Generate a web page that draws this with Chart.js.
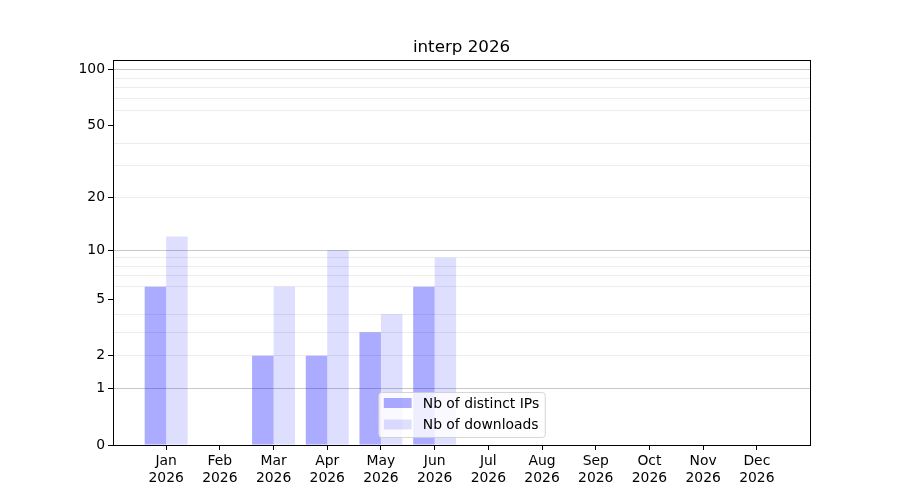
<!DOCTYPE html>
<html>
<head>
<meta charset="utf-8">
<script src="https://cdn.jsdelivr.net/npm/chart.js@4/dist/chart.umd.min.js"></script>
<style>
  html, body { margin: 0; padding: 0; background: #fff; }
  #wrap { width: 900px; height: 500px; }
</style>
</head>
<body>
<div id="wrap"><canvas id="chart" width="900" height="500"></canvas></div>
<script>
const months = ['Jan', 'Feb', 'Mar', 'Apr', 'May', 'Jun', 'Jul', 'Aug', 'Sep', 'Oct', 'Nov', 'Dec'];
const yearLabel = '2026';
const chartTitle = 'interp 2026';
const distinctIPs = [6, 0, 2, 2, 3, 6, 0, 0, 0, 0, 0, 0];
const downloads = [12, 0, 6, 10, 4, 9, 0, 0, 0, 0, 0, 0];
const yLabelTicks = [0, 1, 2, 5, 10, 20, 50, 100];
const yMajorGrid = [1, 10, 100];
const yMinorGrid = [2, 3, 4, 6, 7, 8, 9, 20, 30, 40, 60, 70, 80, 90];
const yMax = 113;

const FONT = "'DejaVu Sans', sans-serif";
const fwd = v => Math.log10(1 + v);

// y axis that spaces values as log10(1 + v)
class InterpScale extends Chart.Scale {
    static id = 'interp';
    static defaults = {};
    determineDataLimits() {
        this.min = 0;
        this.max = yMax;
    }
    buildTicks() {
        const vals = [...new Set([...yLabelTicks, ...yMajorGrid, ...yMinorGrid])].sort((a, b) => a - b);
        return vals.map(v => ({ value: v }));
    }
    configure() {
        super.configure();
        this._tmin = fwd(this.min);
        this._trange = fwd(this.max) - this._tmin;
    }
    getPixelForValue(v) {
        return this.getPixelForDecimal((fwd(v) - this._tmin) / this._trange);
    }
    getValueForPixel(p) {
        return Math.pow(10, this._tmin + this.getDecimalForPixel(p) * this._trange) - 1;
    }
    getLabelForValue(v) {
        return String(v);
    }
}
Chart.register(InterpScale);

// frame, title over the plot centre, legend inside the plot
const frameAndLegend = {
    id: 'frameAndLegend',
    afterDraw(chart) {
        const { ctx, chartArea: a } = chart;
        ctx.save();
        ctx.strokeStyle = '#000';
        ctx.lineWidth = 1;
        ctx.strokeRect(Math.round(a.left) + 0.5, Math.round(a.top) + 0.5,
            Math.round(a.right - a.left), Math.round(a.bottom - a.top));

        ctx.fillStyle = '#000';
        ctx.font = '16.7px ' + FONT;
        ctx.textAlign = 'center';
        ctx.textBaseline = 'middle';
        ctx.fillText(chartTitle, (a.left + a.right) / 2, a.top - 12);

        const fs = 13.9;
        ctx.font = fs + 'px ' + FONT;
        const items = chart.data.datasets.map(d => ({ label: d.label, color: d.backgroundColor }));
        const textW = Math.max(...items.map(it => ctx.measureText(it.label).width));
        const pad = 5.6, patchW = 27.8, patchH = 10, gap = 11.1, rowH = 21.5;
        const boxW = pad + patchW + gap + textW + pad;
        const boxH = 45;
        const bx = (a.left + a.right) / 2 - boxW / 2;
        const by = a.bottom - 8 - boxH;
        ctx.beginPath();
        ctx.roundRect(bx + 0.5, by + 0.5, boxW, boxH, 3);
        ctx.fillStyle = 'rgba(255,255,255,0.8)';
        ctx.fill();
        ctx.strokeStyle = 'rgba(204,204,204,0.8)';
        ctx.stroke();
        items.forEach((it, i) => {
            const cy = by + 11 + i * rowH;
            ctx.fillStyle = it.color;
            ctx.fillRect(bx + pad, cy - patchH / 2, patchW, patchH);
            ctx.fillStyle = '#000';
            ctx.textAlign = 'left';
            ctx.fillText(it.label, bx + pad + patchW + gap, cy + 1);
        });
        ctx.restore();
    }
};

const ctx = document.getElementById('chart').getContext('2d');
new Chart(ctx, {
    type: 'bar',
    data: {
        datasets: [{
            label: 'Nb of distinct IPs',
            data: distinctIPs.map((v, i) => ({ x: i, y: v })),
            backgroundColor: 'rgba(0,0,255,0.33)',
            borderWidth: 0
        }, {
            label: 'Nb of downloads',
            data: downloads.map((v, i) => ({ x: i, y: v })),
            backgroundColor: 'rgba(0,0,255,0.13)',
            borderWidth: 0
        }]
    },
    options: {
        responsive: false,
        animation: false,
        devicePixelRatio: 1,
        categoryPercentage: 0.8,
        barPercentage: 1.0,
        layout: { padding: { left: 0, right: 90, top: 60, bottom: 0 } },
        plugins: {
            legend: { display: false },
            tooltip: { enabled: false },
            title: { display: false }
        },
        scales: {
            x: {
                type: 'linear',
                min: -0.99,
                max: 11.99,
                offset: false,
                afterBuildTicks: scale => { scale.ticks = months.map((m, i) => ({ value: i })); },
                afterFit: scale => { scale.height = 55; },
                grid: { offset: false, drawOnChartArea: false, drawTicks: true, tickLength: 5, color: '#000' },
                border: { display: true, color: '#000' },
                ticks: {
                    autoSkip: false,
                    maxRotation: 0,
                    padding: 3,
                    color: '#000',
                    font: { family: FONT, size: 13.9 },
                    callback: v => [months[v], yearLabel]
                }
            },
            y: {
                type: 'interp',
                position: 'left',
                afterFit: scale => { scale.width = 113; },
                grid: {
                    drawTicks: true,
                    tickLength: 5,
                    color: c => {
                        const v = c.tick ? c.tick.value : 0;
                        if (yMajorGrid.includes(v)) return '#c8c8c8';
                        if (yMinorGrid.includes(v)) return '#ececec';
                        return 'rgba(0,0,0,0)';
                    },
                    tickColor: c => (c.tick && yLabelTicks.includes(c.tick.value)) ? '#000' : 'rgba(0,0,0,0)'
                },
                border: { display: true, color: '#000' },
                ticks: {
                    autoSkip: false,
                    padding: 3,
                    color: '#000',
                    font: { family: FONT, size: 13.9 },
                    callback: v => yLabelTicks.includes(v) ? String(v) : ''
                }
            }
        }
    },
    plugins: [frameAndLegend]
});
</script>
</body>
</html>
